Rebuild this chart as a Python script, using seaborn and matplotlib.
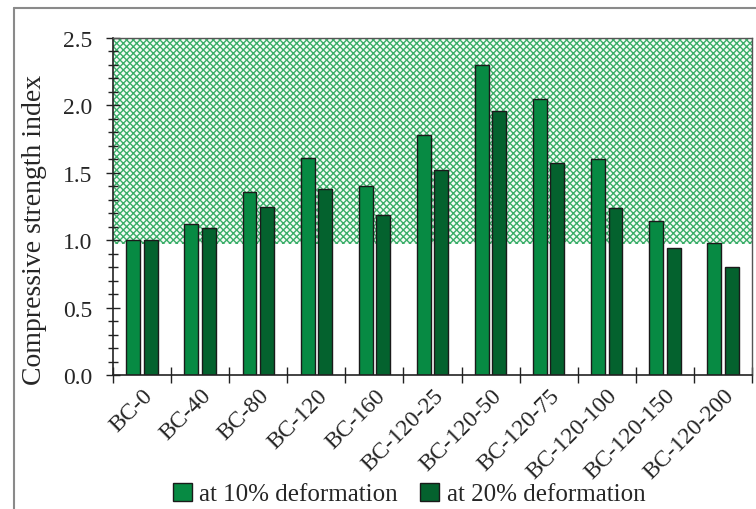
import matplotlib
matplotlib.use("Agg")
import matplotlib.pyplot as plt
import seaborn as sns
import pandas as pd
from matplotlib.lines import Line2D
from matplotlib.patches import Patch
from matplotlib.ticker import MultipleLocator, FormatStrFormatter

# Specimen groups
categories = ["BC-0", "BC-40", "BC-80", "BC-120", "BC-160", "BC-120-25",
              "BC-120-50", "BC-120-75", "BC-120-100", "BC-120-150", "BC-120-200"]
# Compressive strength index at two deformation levels
at_10 = [1.00, 1.12, 1.36, 1.61, 1.40, 1.78, 2.30, 2.05, 1.60, 1.14, 0.98]
at_20 = [1.00, 1.09, 1.25, 1.38, 1.19, 1.52, 1.96, 1.57, 1.24, 0.94, 0.80]
series_names = ["at 10% deformation", "at 20% deformation"]
series_colors = ["#078a43", "#04622e"]
shade_range = (0.97, 2.5)

df = pd.DataFrame({
    "group": categories * 2,
    "value": at_10 + at_20,
    "series": [series_names[0]] * len(categories) + [series_names[1]] * len(categories),
})

sns.set_theme(style="white")
plt.rcParams["font.family"] = ["Liberation Serif", "DejaVu Serif"]
plt.rcParams["hatch.linewidth"] = 1.0
plt.rcParams["hatch.color"] = "#3aad68"

fig = plt.figure(figsize=(7.56, 5.10), dpi=100)
ax = fig.add_axes([113 / 756, 1 - 376 / 510, (752 - 113) / 756, (376 - 39) / 510])

# Shaded band above the reference index
ax.axhspan(shade_range[0], shade_range[1], facecolor="#f4fbf6", edgecolor="#3aad68",
           hatch="xxxxx", linewidth=0, zorder=0)

sns.barplot(data=df, x="group", y="value", hue="series", order=categories,
            hue_order=series_names, palette=series_colors, width=0.6, gap=0.2,
            edgecolor="#1a1a1a", linewidth=1.0, saturation=1, legend=False,
            ax=ax, zorder=2)

ax.set_xlim(-0.5, len(categories) - 0.5)
ax.set_ylim(0, 2.5)
ax.yaxis.set_major_locator(MultipleLocator(0.5))
ax.yaxis.set_minor_locator(MultipleLocator(0.1))
ax.yaxis.set_major_formatter(FormatStrFormatter("%.1f"))
ax.tick_params(axis="y", which="major", direction="inout", length=10, width=1,
               color="#222222", labelsize=17, pad=10, left=True)
ax.tick_params(axis="y", which="minor", direction="inout", length=7, width=1,
               color="#222222", left=True)

# Group separators as ticks, names centred under each group
n = len(categories)
ax.set_xticks([i - 0.5 for i in range(n + 1)])
ax.set_xticklabels([""] * (n + 1))
ax.set_xticks(list(range(n)), minor=True)
ax.set_xticklabels(categories, minor=True, rotation=45, ha="right",
                   rotation_mode="anchor", fontsize=17)
ax.tick_params(axis="x", which="major", direction="inout", length=12, width=1,
               color="#222222", bottom=True)
ax.tick_params(axis="x", which="minor", length=0, pad=7)

ax.set_xlabel("")
ax.set_ylabel("Compressive strength index", fontsize=20)
ax.yaxis.set_label_coords(-0.104, 0.433)

for side in ("left", "bottom"):
    ax.spines[side].set_color("#222222")
    ax.spines[side].set_linewidth(1.2)
for side in ("top", "right"):
    ax.spines[side].set_color("#555555")
    ax.spines[side].set_linewidth(1.0)

handles = [Patch(facecolor=c, edgecolor="#1a1a1a", linewidth=1.0) for c in series_colors]
fig.legend(handles, series_names, loc="center", bbox_to_anchor=(409 / 756, 1 - 495 / 510),
           ncol=2, frameon=False, fontsize=18, handlelength=0.75, handleheight=0.75,
           handletextpad=0.3, columnspacing=0.9, borderpad=0)

# Outer frame lines along the top and left
fig.add_artist(Line2D([14 / 756, 1.0], [1 - 9 / 510, 1 - 9 / 510],
                      transform=fig.transFigure, color="#8a8a8a", linewidth=1.5))
fig.add_artist(Line2D([14 / 756, 14 / 756], [0, 1 - 9 / 510],
                      transform=fig.transFigure, color="#8a8a8a", linewidth=1.5))

fig.savefig("out.png", dpi=100)
